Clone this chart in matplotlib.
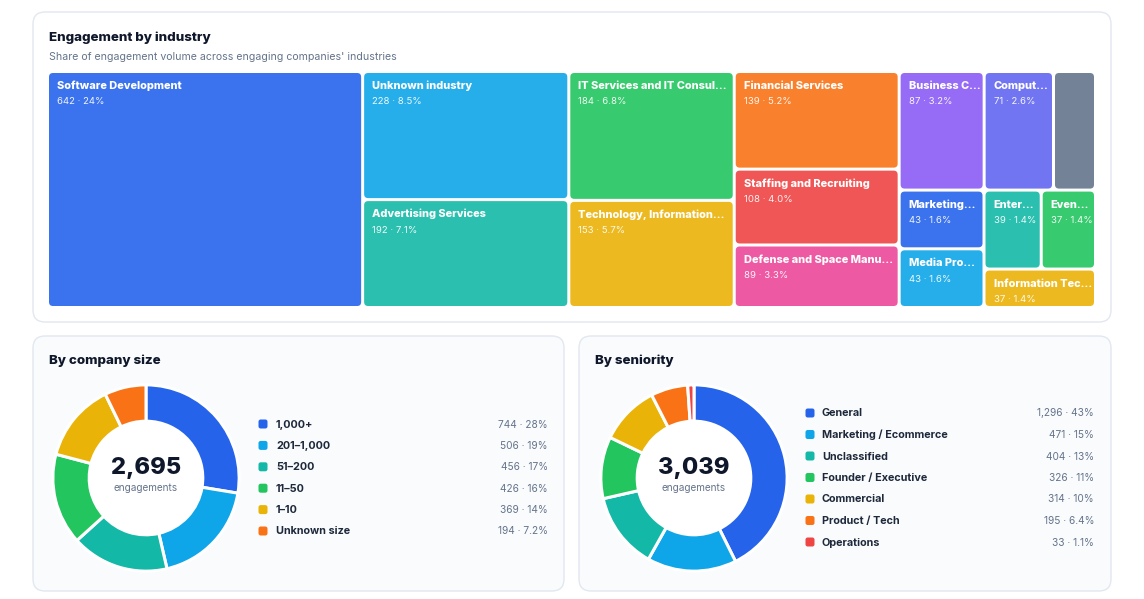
import matplotlib
matplotlib.use("Agg")
import matplotlib.pyplot as plt
from matplotlib.patches import FancyBboxPatch

plt.rcParams['font.family'] = ['Inter', 'DejaVu Sans']

# ---------------- data ----------------
industry_names = ["Software Development", "Unknown industry", "Advertising Services",
                  "IT Services and IT Consulting", "Technology, Information and Internet",
                  "Financial Services", "Staffing and Recruiting", "Defense and Space Manufacturing",
                  "Business Consulting and Services", "Computer and Network Security", "Other",
                  "Marketing Services", "Media Production", "Entertainment Providers",
                  "Events Services", "Information Technology & Services"]
industry_values = [642, 228, 192, 184, 153, 139, 108, 89, 87, 71, 43, 43, 43, 39, 37, 37]

size_labels = ["1,000+", "201\u20131,000", "51\u2013200", "11\u201350", "1\u201310", "Unknown size"]
size_values = [744, 506, 456, 426, 369, 194]

seniority_labels = ["General", "Marketing / Ecommerce", "Unclassified", "Founder / Executive",
                    "Commercial", "Product / Tech", "Operations"]
seniority_values = [1296, 471, 404, 326, 314, 195, 33]

palette = ["#2563EB", "#0EA5E9", "#14B8A6", "#22C55E", "#EAB308", "#F97316",
           "#EF4444", "#EC4899", "#8B5CF6", "#6366F1", "#64748B"]

TOTAL = sum(size_values)

def pct(v, tot):
    p = v / tot * 100
    return f"{p:.0f}%" if p >= 10 else f"{p:.1f}%"

def fmt(v):
    return f"{v:,}"

# ---------------- figure ----------------
W, H = 1144, 599
fig = plt.figure(figsize=(W / 100, H / 100), dpi=100)
fig.patch.set_facecolor("white")
bg = fig.add_axes([0, 0, 1, 1])
bg.set_xlim(0, W)
bg.set_ylim(H, 0)
bg.axis("off")

def card(x0, y0, x1, y1, fc):
    bg.add_patch(FancyBboxPatch((x0, y0), x1 - x0, y1 - y0,
                                boxstyle="round,pad=0,rounding_size=12",
                                fc=fc, ec="#E2E8F0", lw=1.0))

card(33, 12, 1111, 322, "white")
card(33, 336, 564, 591, "#FAFBFD")
card(579, 336, 1111, 591, "#FAFBFD")

TITLE_C = "#0F172A"
SUB_C = "#64748B"
HEAVY = 800
bg.text(49, 37.5, "Engagement by industry", fontsize=9.6, fontweight=HEAVY, color=TITLE_C, va="center")
bg.text(49, 57, "Share of engagement volume across engaging companies' industries",
        fontsize=7.6, color=SUB_C, va="center")
bg.text(49, 360.5, "By company size", fontsize=9.6, fontweight=HEAVY, color=TITLE_C, va="center")
bg.text(595, 360.5, "By seniority", fontsize=9.6, fontweight=HEAVY, color=TITLE_C, va="center")

# ---------------- treemap ----------------
tx0, ty0, tx1, ty1 = 47.5, 71.5, 1095.5, 307.5
tw, th = tx1 - tx0, ty1 - ty0
tm = fig.add_axes([tx0 / W, 1 - ty1 / H, tw / W, th / H])
tm.set_xlim(0, tw)
tm.set_ylim(th, 0)
tm.axis("off")

def squarify(values, x0, y0, x1, y1, ratio=(1 + 5 ** 0.5) / 2):
    rects = [None] * len(values)
    value = float(sum(values))
    n = len(values)
    i0 = 0
    while i0 < n:
        dx, dy = x1 - x0, y1 - y0
        i1 = i0
        s = values[i1]; i1 += 1
        mn = mx = s
        alpha = max(dy / dx, dx / dy) / (value * ratio)
        beta = s * s * alpha
        min_ratio = max(mx / beta, beta / mn)
        while i1 < n:
            v = values[i1]
            s2 = s + v
            mn2, mx2 = min(mn, v), max(mx, v)
            beta = s2 * s2 * alpha
            nr = max(mx2 / beta, beta / mn2)
            if nr > min_ratio:
                break
            min_ratio = nr; s = s2; mn = mn2; mx = mx2; i1 += 1
        if dx < dy:
            h = dy * s / value
            xx = x0
            for k in range(i0, i1):
                w = dx * values[k] / s
                rects[k] = (xx, y0, w, h)
                xx += w
            y0 += h
        else:
            w = dx * s / value
            yy = y0
            for k in range(i0, i1):
                h = dy * values[k] / s
                rects[k] = (x0, yy, w, h)
                yy += h
            x0 += w
        value -= s
        i0 = i1
    return rects

rects = squarify(industry_values, 0, 0, tw, th)
renderer = fig.canvas.get_renderer()
PAD = 1.5
for i, (name, val, r) in enumerate(zip(industry_names, industry_values, rects)):
    x, y, w, h = r
    col = palette[i % len(palette)]
    tm.add_patch(FancyBboxPatch((x + PAD, y + PAD), w - 2 * PAD, h - 2 * PAD,
                                boxstyle="round,pad=0,rounding_size=4",
                                fc=col, ec="none", alpha=0.9))
    if w - 2 * PAD < 45 or h < 30:
        continue
    avail = w - 2 * PAD - 10
    t = tm.text(x + PAD + 8, y + PAD + 13, name, fontsize=7.9, fontweight=HEAVY,
                color="white", va="center", ha="left")
    label = name
    while t.get_window_extent(renderer).width > avail and len(label) > 1:
        label = label[:-1]
        t.set_text(label.rstrip() + "\u2026")
    tm.text(x + PAD + 8, y + PAD + 29, f"{val} \u00b7 {pct(val, TOTAL)}", fontsize=6.9,
            color="white", va="center", ha="left", alpha=0.92)

# ---------------- donuts ----------------
def donut(cx, cy, r, values, labels, total_text, lx_dot, lx_text, lx_val, ly0, ldy):
    ax = fig.add_axes([(cx - r) / W, 1 - (cy + r) / H, 2 * r / W, 2 * r / H])
    ax.pie(values, colors=palette[:len(values)], startangle=90, counterclock=False,
           radius=1.0, wedgeprops=dict(width=0.39, edgecolor="white", linewidth=2.2))
    ax.set_xlim(-1.02, 1.02)
    ax.set_ylim(-1.02, 1.02)
    ax.set_aspect("equal")
    ax.axis("off")
    ax.add_patch(plt.Circle((0, 0), 0.61, color="white", zorder=0))
    ax.text(0, 0.11, total_text, fontsize=17, fontweight=HEAVY, color=TITLE_C,
            ha="center", va="center")
    ax.text(0, -0.105, "engagements", fontsize=7.2, color=SUB_C, ha="center", va="center")
    tot = sum(values)
    for i, (lab, v) in enumerate(zip(labels, values)):
        yy = ly0 + i * ldy
        bg.add_patch(FancyBboxPatch((lx_dot - 4.5, yy - 4.5), 9, 9,
                                    boxstyle="round,pad=0,rounding_size=2.2",
                                    fc=palette[i], ec="none"))
        bg.text(lx_text, yy + 0.5, lab, fontsize=7.8, fontweight="bold", color="#1E293B",
                va="center", ha="left")
        bg.text(lx_val, yy + 0.5, f"{fmt(v)} \u00b7 {pct(v, tot)}", fontsize=7.3, color=SUB_C,
                va="center", ha="right")

donut(146, 478, 95, size_values, size_labels, fmt(sum(size_values)),
      263, 276, 548, 424, 21.4)
donut(694, 478, 95, seniority_values, seniority_labels, fmt(sum(seniority_values)),
      810, 822, 1094, 413, 21.5)

fig.savefig("out.png", dpi=100, facecolor="white")
